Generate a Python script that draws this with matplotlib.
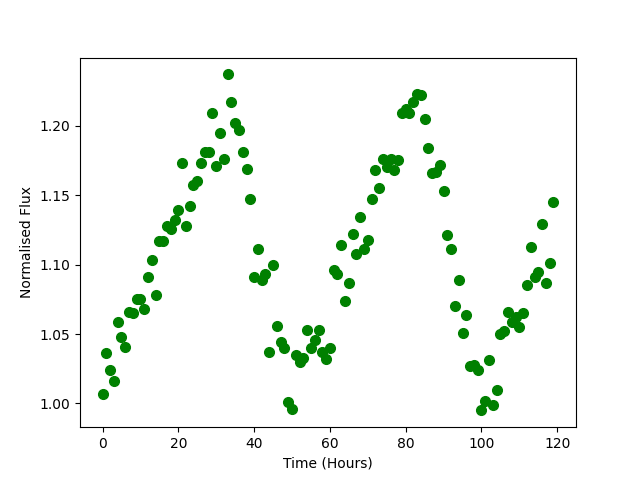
import matplotlib
matplotlib.use("Agg")
import matplotlib.pyplot as plt
import numpy as np

hours = np.arange(120)
flux = [1.007, 1.036, 1.024, 1.016, 1.059, 1.048, 1.041, 1.066, 1.065, 1.075,
        1.075, 1.068, 1.091, 1.103, 1.078, 1.117, 1.117, 1.128, 1.126, 1.132,
        1.139, 1.173, 1.128, 1.142, 1.157, 1.160, 1.173, 1.181, 1.181, 1.209,
        1.171, 1.195, 1.176, 1.237, 1.217, 1.202, 1.197, 1.181, 1.169, 1.147,
        1.091, 1.111, 1.089, 1.093, 1.037, 1.100, 1.056, 1.044, 1.040, 1.001,
        0.996, 1.035, 1.030, 1.033, 1.053, 1.040, 1.046, 1.053, 1.037, 1.032,
        1.040, 1.096, 1.093, 1.114, 1.074, 1.087, 1.122, 1.108, 1.134, 1.111,
        1.118, 1.147, 1.168, 1.155, 1.176, 1.170, 1.176, 1.168, 1.175, 1.209,
        1.212, 1.209, 1.217, 1.223, 1.222, 1.205, 1.184, 1.166, 1.167, 1.172,
        1.153, 1.121, 1.111, 1.070, 1.089, 1.051, 1.064, 1.027, 1.028, 1.024,
        0.995, 1.002, 1.031, 0.999, 1.010, 1.050, 1.052, 1.066, 1.059, 1.062,
        1.055, 1.065, 1.085, 1.113, 1.091, 1.095, 1.129, 1.087, 1.101, 1.145]

fig, ax = plt.subplots(figsize=(6.4, 4.8), dpi=100)
ax.plot(hours, flux, 'o', color='green', markersize=7)
ax.set_xlabel('Time (Hours)')
ax.set_ylabel('Normalised Flux')
fig.savefig('out.png')
